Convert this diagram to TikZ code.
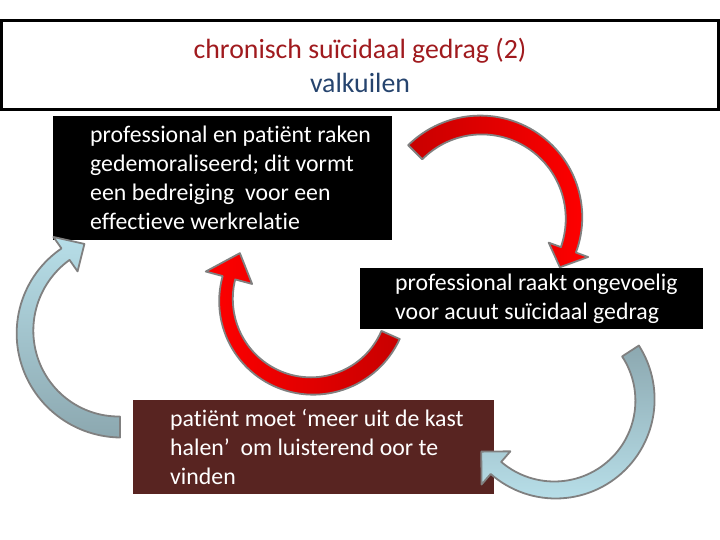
\documentclass[tikz,border=0pt]{standalone}
\usepackage{fontspec}
\setmainfont[Ligatures={NoCommon}]{Carlito}
\definecolor{titlered}{RGB}{160,26,30}
\definecolor{titleblue}{RGB}{38,68,110}
\definecolor{boxbrown}{RGB}{88,36,33}
\definecolor{arrowgray}{RGB}{128,128,128}
\definecolor{lightblue}{RGB}{183,222,232}
\definecolor{greyblue}{RGB}{140,168,176}
\definecolor{darkred}{RGB}{200,0,0}

\tikzset{
  titlebox/.style={draw, line width=3pt, minimum width=717pt, minimum height=89pt,
    align=center, font=\fontsize{27.8}{34}\selectfont},
  darkbox/.style={fill=#1, inner sep=0pt, anchor=north west},
  boxtext/.style={text=white, inner sep=0pt, align=left, anchor=west,
    font=\fontsize{23.8}{29}\selectfont},
  bendline/.style={draw=arrowgray, line width=1.8pt, line join=round}
}

% #1 style, #2 centre, #3 radius, #4 tail angle, #5 head angle, #6 tip angle,
% #7 tail width, #8 width at head, #9 half head width
\newcommand{\bendarrow}[9]{%
  \begin{scope}[shift={#2}]
    \path[bendline, #1]
      plot[domain=#4:#5, samples=60] (\x:{#3+(#7+(#8-#7)*(\x-#4)/(#5-#4))/2})
      -- (#5:{#3+#9}) -- (#6:#3) -- (#5:{#3-#9})
      -- plot[domain=#5:#4, samples=60] (\x:{#3-(#7+(#8-#7)*(\x-#4)/(#5-#4))/2})
      -- cycle;
  \end{scope}}

\begin{document}
\begin{tikzpicture}[x=1pt, y=1pt]
  \useasboundingbox (0,0) rectangle (720,-540);
  % Title
  \node[titlebox] (title) at (360,-65)
    {\textcolor{titlered}{chronisch suïcidaal gedrag (2)}\\
     \textcolor{titleblue}{valkuilen}};
  % Boxes
  \node[darkbox=black, minimum width=339pt, minimum height=124pt] (box1) at (53,-116) {};
  \node[boxtext] (txt1) at ([xshift=37pt]box1.west)
    {professional en patiënt raken\\gedemoraliseerd; dit vormt\\een bedreiging\ \ voor een\\effectieve werkrelatie};
  \node[darkbox=black, minimum width=343pt, minimum height=61pt] (box2) at (360,-268) {};
  \node[boxtext] (txt2) at ([xshift=35pt]box2.west)
    {professional raakt ongevoelig\\voor acuut suïcidaal gedrag};
  \node[darkbox=boxbrown, minimum width=361pt, minimum height=94pt] (box3) at (133,-400) {};
  \node[boxtext] (txt3) at ([xshift=37pt]box3.west)
    {patiënt moet ‘meer uit de kast\\halen’\ \ om luisterend oor te\\vinden};
  % Red arrows
  \bendarrow{left color=darkred, right color=red}{(481,-218)}{93}{135}{-20}{-32}{20}{16}{21}
  \bendarrow{left color=red, right color=darkred}{(312,-300)}{86}{-24}{-195}{-213}{20}{13}{24}
  % Blue arrows
  \bendarrow{top color=lightblue, bottom color=greyblue}{(120,-332)}{95}{-90}{-235}{-248}{21}{14}{21}
  \bendarrow{top color=greyblue, bottom color=lightblue}{(555,-400)}{90}{33}{-131}{-145}{20}{16}{22}
\end{tikzpicture}
\end{document}
